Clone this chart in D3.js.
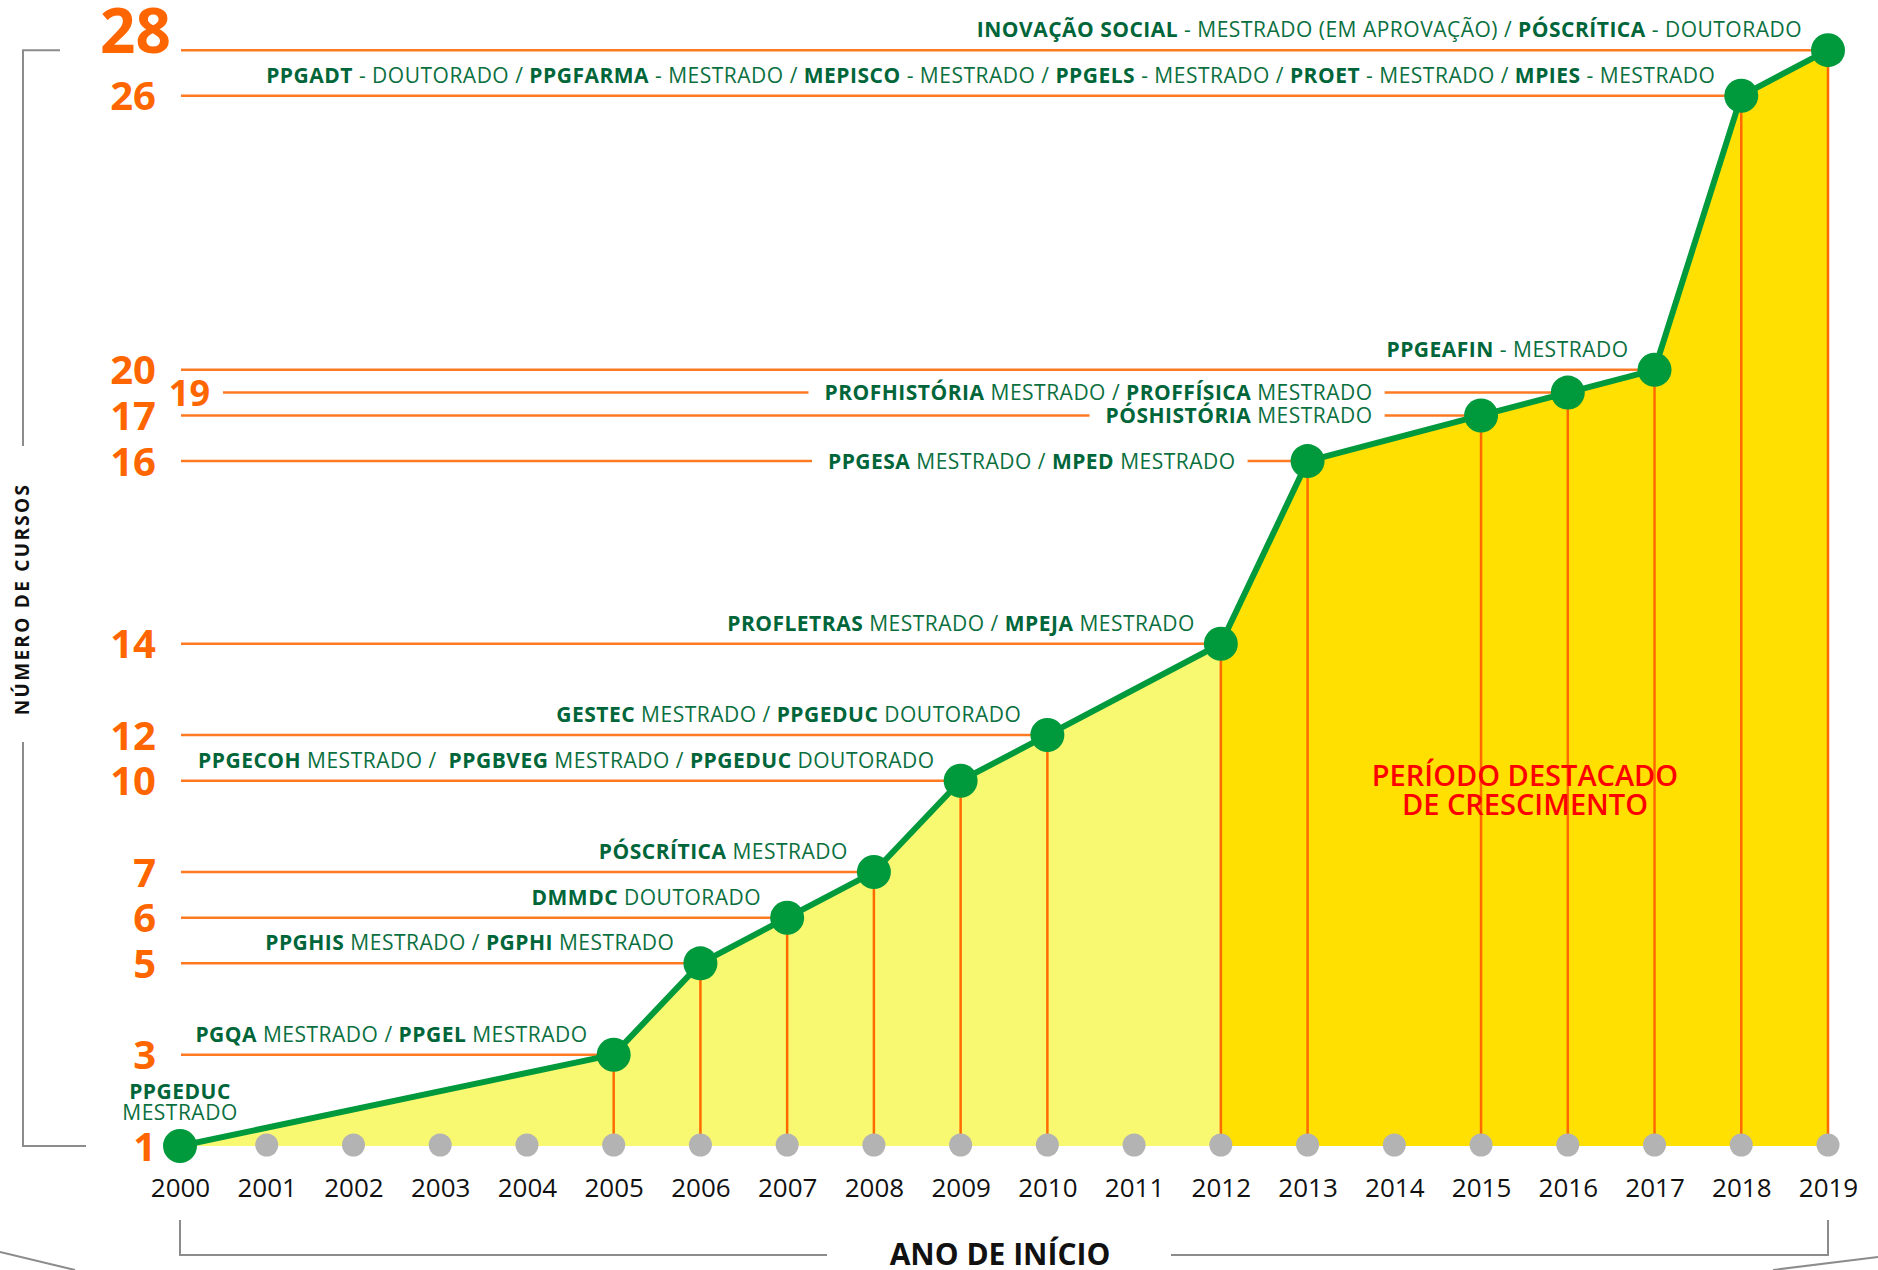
<!DOCTYPE html>
<meta charset="utf-8">
<style>
body { margin: 0; background: #fff; }
svg text { font-family: "Open Sans", sans-serif; }
.rich { white-space: pre; }
</style>
<svg id="chart" width="1878" height="1270"></svg>
<script src="https://d3js.org/d3.v7.min.js"></script>
<script>
// anos do eixo x
var years = [2000, 2001, 2002, 2003, 2004, 2005, 2006, 2007, 2008, 2009,
             2010, 2011, 2012, 2013, 2014, 2015, 2016, 2017, 2018, 2019];

// anos em que entrou curso novo e o total acumulado de cursos
var startYears   = [2000, 2005, 2006, 2007, 2008, 2009, 2010, 2012, 2013, 2015, 2016, 2017, 2018, 2019];
var courseTotals = [1, 3, 5, 6, 7, 10, 12, 14, 16, 17, 19, 20, 26, 28];

// cursos que entraram em cada ano (*negrito*)
var courseLabels = [
  "*PPGEDUC*\nMESTRADO",
  "*PGQA* MESTRADO / *PPGEL* MESTRADO",
  "*PPGHIS* MESTRADO / *PGPHI* MESTRADO",
  "*DMMDC* DOUTORADO",
  "*PÓSCRÍTICA* MESTRADO",
  "*PPGECOH* MESTRADO /  *PPGBVEG* MESTRADO / *PPGEDUC* DOUTORADO",
  "*GESTEC* MESTRADO / *PPGEDUC* DOUTORADO",
  "*PROFLETRAS* MESTRADO / *MPEJA* MESTRADO",
  "*PPGESA* MESTRADO / *MPED* MESTRADO",
  "*PÓSHISTÓRIA* MESTRADO",
  "*PROFHISTÓRIA* MESTRADO / *PROFFÍSICA* MESTRADO",
  "*PPGEAFIN* - MESTRADO",
  "*PPGADT* - DOUTORADO / *PPGFARMA* - MESTRADO / *MEPISCO* - MESTRADO / *PPGELS* - MESTRADO / *PROET* - MESTRADO / *MPIES* - MESTRADO",
  "*INOVAÇÃO SOCIAL* - MESTRADO (EM APROVAÇÃO) / *PÓSCRÍTICA* - DOUTORADO"
];

var highlightFrom = 2012;

//////////////////////////// layout ////////////////////////////
// o eixo y nao e linear: cada total tem sua "linha" no desenho
var ySlots = [0, 4, 8, 10, 12, 16, 18, 22, 30, 32, 33, 34, 46, 48];
var baseY = 1146, slotH = 22.83;
// rotulos que ficam dentro da linha (ponta direita em anos)
var inlineEnd = {16: 2012.17, 17: 2013.75, 19: 2013.75};

var green = "#009a3d", darkGreen = "#00663a", textGreen = "#0b7040";
var orange = "#ff6a00", guide = "#ff7a22";

var svg = d3.select("#chart");
var x = d3.scaleLinear().domain([2000, 2019]).range([180, 1828]);
var y = d3.scaleLinear().domain(courseTotals)
          .range(ySlots.map(function(s) { return baseY - s * slotH; }));

var pts = startYears.map(function(yr, i) {
  return {year: yr, total: courseTotals[i], label: courseLabels[i]};
});

function rich(g, str, px, py, anchor) {
  var t = g.append("text").attr("class", "rich")
      .attr("x", px).attr("y", py)
      .attr("text-anchor", anchor).attr("font-size", 21)
      .attr("letter-spacing", 0.5);
  str.split("*").forEach(function(part, i) {
    if (!part) return;
    t.append("tspan").text(part)
      .attr("font-weight", i % 2 ? 700 : 400)
      .attr("fill", i % 2 ? darkGreen : textGreen);
  });
  return t;
}

//////////////////////////// guide lines ////////////////////////////
var gGuides = svg.append("g").attr("stroke", guide).attr("stroke-width", 2.5);
var gLabels = svg.append("g");

pts.forEach(function(d) {
  if (d.total == 1) return;
  var x0 = d.total == 19 ? 223 : 181;
  var xd = x(d.year), yd = y(d.total);
  if (inlineEnd[d.total]) {
    var t = rich(gLabels, d.label, x(inlineEnd[d.total]), yd + 7.5, "end");
    var bb = t.node().getBBox();
    gGuides.append("line").attr("x1", x0).attr("x2", bb.x - 16).attr("y1", yd).attr("y2", yd);
    gGuides.append("line").attr("x1", bb.x + bb.width + 12).attr("x2", xd).attr("y1", yd).attr("y2", yd);
  } else {
    gGuides.append("line").attr("x1", x0).attr("x2", xd).attr("y1", yd).attr("y2", yd);
    rich(gLabels, d.label, xd - 26, yd - 13, "end");
  }
});

//////////////////////////// areas ////////////////////////////
var area = d3.area()
  .x(function(d) { return x(d.year); })
  .y0(y(1))
  .y1(function(d) { return y(d.total); });

svg.insert("path", "g")
  .datum(pts.filter(function(d) { return d.year <= highlightFrom; }))
  .attr("fill", "#f9f871").attr("d", area);
svg.insert("path", "g")
  .datum(pts.filter(function(d) { return d.year >= highlightFrom; }))
  .attr("fill", "#ffe000").attr("d", area);
// guias por baixo das areas
svg.node().insertBefore(gGuides.node(), svg.node().firstChild);

svg.append("g").selectAll("line")
  .data(pts.filter(function(d) { return d.total > 1; }))
  .join("line")
  .attr("x1", function(d) { return x(d.year); })
  .attr("x2", function(d) { return x(d.year); })
  .attr("y1", function(d) { return y(d.total); })
  .attr("y2", y(1))
  .attr("stroke", orange).attr("stroke-width", 2.5);

//////////////////////////// x axis ////////////////////////////
svg.append("g").selectAll("circle")
  .data(years).join("circle")
  .attr("cx", function(d) { return x(d); })
  .attr("cy", y(1) - 1)
  .attr("r", 11.5)
  .attr("fill", "#b3b3b3");

var gx = svg.append("g")
  .attr("transform", "translate(0,1178.5)")
  .call(d3.axisBottom(x).tickValues(years).tickFormat(d3.format("d")).tickSize(0).tickPadding(0));
gx.attr("font-family", null).attr("font-size", 26);
gx.select(".domain").remove();
gx.selectAll("text").attr("fill", "#111");

//////////////////////////// line + dots ////////////////////////////
svg.append("path").datum(pts)
  .attr("fill", "none").attr("stroke", green).attr("stroke-width", 6)
  .attr("stroke-linejoin", "round")
  .attr("d", d3.line().x(function(d) { return x(d.year); }).y(function(d) { return y(d.total); }));

svg.append("g").selectAll("circle")
  .data(pts).join("circle")
  .attr("cx", function(d) { return x(d.year); })
  .attr("cy", function(d) { return y(d.total); })
  .attr("r", 17).attr("fill", green);

svg.node().appendChild(gLabels.node());

// rotulo de 2000 (duas linhas, centrado)
var first = pts[0].label.split("\n");
rich(gLabels, first[0], x(2000), 1099, "middle");
rich(gLabels, first[1], x(2000), 1120, "middle");

//////////////////////////// y tick labels ////////////////////////////
svg.append("g").selectAll("text")
  .data(pts).join("text")
  .attr("x", function(d) { return d.total == 28 ? 171 : d.total == 19 ? 210 : 156; })
  .attr("y", function(d) { return d.total == 28 ? y(d.total) + 3 : y(d.total) + (d.total == 19 ? 13 : 14.5); })
  .attr("text-anchor", "end")
  .attr("font-weight", 700)
  .attr("font-size", function(d) { return d.total == 28 ? 62 : d.total == 19 ? 36 : 40; })
  .attr("fill", "#ff6600")
  .text(function(d) { return d.total; });

//////////////////////////// brackets + titles ////////////////////////////
var frame = svg.append("g").attr("fill", "none").attr("stroke", "#8c8c8c").attr("stroke-width", 2);
frame.append("path").attr("d", "M60," + y(28) + "H23V446M23,742V" + y(1) + "H86");
frame.append("path").attr("d", "M" + x(2000) + ",1220V1255H827M1171,1255H" + x(2019) + "V1220");
frame.append("path").attr("d", "M0,1252L75,1270M1773,1270L1878,1257");

svg.append("text")
  .attr("transform", "translate(22,599) rotate(-90)")
  .attr("dy", "0.36em")
  .attr("text-anchor", "middle")
  .attr("font-weight", 700).attr("font-size", 19)
  .attr("letter-spacing", 2.3)
  .attr("fill", "#111")
  .text("NÚMERO DE CURSOS");

svg.append("text")
  .attr("x", 1000).attr("y", 1265)
  .attr("text-anchor", "middle")
  .attr("font-weight", 700).attr("font-size", 30)
  .attr("fill", "#111")
  .text("ANO DE INÍCIO");

var per = svg.append("g").attr("fill", "#ff0000").attr("font-weight", 600)
  .attr("font-size", 29).attr("text-anchor", "middle");
per.append("text").attr("x", 1525).attr("y", 786).text("PERÍODO DESTACADO");
per.append("text").attr("x", 1525).attr("y", 815).text("DE CRESCIMENTO");
</script>
